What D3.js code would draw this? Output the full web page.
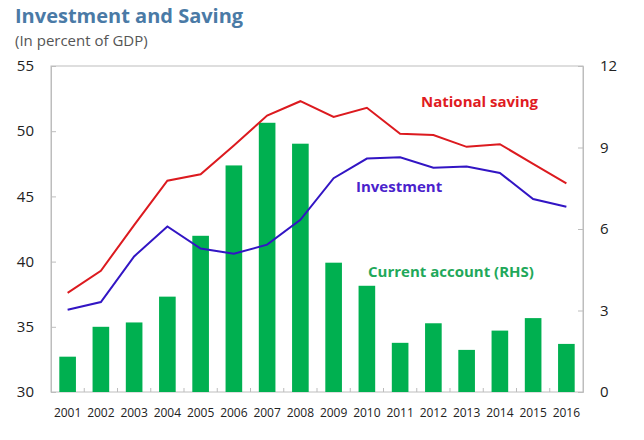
<!DOCTYPE html>
<html><head><meta charset="utf-8">
<script src="https://cdn.jsdelivr.net/npm/d3@7"></script>
<style>body{margin:0;background:#fff}svg{display:block}</style>
</head><body>
<svg id="c" width="644" height="440"></svg>
<script>
const years = ["2001","2002","2003","2004","2005","2006","2007","2008","2009","2010","2011","2012","2013","2014","2015","2016"];
const currentAccount = [1.30,2.40,2.56,3.51,5.75,8.34,9.91,9.14,4.76,3.91,1.81,2.53,1.55,2.26,2.72,1.77];
const nationalSaving = [37.6,39.3,42.8,46.2,46.7,48.9,51.2,52.3,51.1,51.8,49.8,49.7,48.8,49.0,47.5,46.0];
const investment = [36.3,36.9,40.4,42.7,41.0,40.6,41.3,43.2,46.4,47.9,48.0,47.2,47.3,46.8,44.8,44.2];
const leftTicks = [30,35,40,45,50,55];
const rightTicks = [0,3,6,9,12];

const svg = d3.select("#c");
const L = 51, R = 583, T = 66, B = 392;
const font = "'Open Sans', sans-serif";

const x = d3.scaleBand().domain(years).range([L, R]).paddingInner(0.5).paddingOuter(0.25);
const yL = d3.scaleLinear().domain([30,55]).range([B, T]);
const yR = d3.scaleLinear().domain([0,12]).range([B, T]);

// frame
svg.append("rect").attr("x",L).attr("y",T).attr("width",R-L).attr("height",B-T)
  .attr("fill","none").attr("stroke","#bdbdbd").attr("stroke-width",1);

// bars
svg.append("g").selectAll("rect").data(currentAccount).join("rect")
  .attr("x",(d,i)=>x(years[i])).attr("width",x.bandwidth())
  .attr("y",d=>yR(d)).attr("height",d=>yR(0)-yR(d)).attr("fill","#00b050");

// axes
const gL = svg.append("g").attr("transform",`translate(${L},0)`)
  .call(d3.axisRight(yL).tickValues(leftTicks).tickSize(5).tickFormat(""));
const gR = svg.append("g").attr("transform",`translate(${R},0)`)
  .call(d3.axisLeft(yR).tickValues(rightTicks).tickSize(5).tickFormat(""));
const step = x.step();
const gB = svg.append("g");
gB.selectAll("line").data(years.slice(1)).join("line")
  .attr("x1",d=>x(d)-step*0.25).attr("x2",d=>x(d)-step*0.25)
  .attr("y1",B).attr("y2",B-4).attr("stroke","#bdbdbd");
[gL,gR].forEach(g=>{g.select(".domain").attr("stroke","#bdbdbd");g.selectAll(".tick line").attr("stroke","#bdbdbd");});

// tick labels
svg.append("g").selectAll("text").data(leftTicks).join("text")
  .attr("x",34).attr("y",d=>yL(d)).attr("dy","0.35em").attr("text-anchor","end")
  .attr("font-family",font).attr("font-size",15).attr("fill","#222").text(d=>d);
svg.append("g").selectAll("text").data(rightTicks).join("text")
  .attr("x",600).attr("y",d=>yR(d)).attr("dy","0.35em").attr("text-anchor","start")
  .attr("font-family",font).attr("font-size",15).attr("fill","#222").text(d=>d);
svg.append("g").selectAll("text").data(years).join("text")
  .attr("x",d=>x(d)+x.bandwidth()/2).attr("y",417).attr("text-anchor","middle")
  .attr("font-family",font).attr("font-size",12).attr("fill","#222").text(d=>d);

// lines
const cx = d => x(d)+x.bandwidth()/2;
const line = d3.line().x((d,i)=>cx(years[i])).y(d=>yL(d));
svg.append("path").datum(nationalSaving).attr("d",line).attr("fill","none").attr("stroke","#dc1a1f").attr("stroke-width",2);
svg.append("path").datum(investment).attr("d",line).attr("fill","none").attr("stroke","#3215c4").attr("stroke-width",2);

// series labels
svg.append("text").attr("x",421).attr("y",107).attr("font-family",font).attr("font-weight","bold")
  .attr("font-size",15).attr("fill","#e01b22").text("National saving");
svg.append("text").attr("x",356).attr("y",192).attr("font-family",font).attr("font-weight","bold")
  .attr("font-size",15).attr("fill","#4a22cc").text("Investment");
svg.append("text").attr("x",368).attr("y",277).attr("font-family",font).attr("font-weight","bold")
  .attr("font-size",15).attr("fill","#1fa85a").text("Current account (RHS)");

// titles
svg.append("text").attr("x",15).attr("y",23).attr("font-family",font).attr("font-weight","bold")
  .attr("font-size",20).attr("fill","#4a7aa6").text("Investment and Saving");
svg.append("text").attr("x",15).attr("y",46).attr("font-family",font)
  .attr("font-size",15).attr("fill","#555").text("(In percent of GDP)");
</script>
</body></html>
